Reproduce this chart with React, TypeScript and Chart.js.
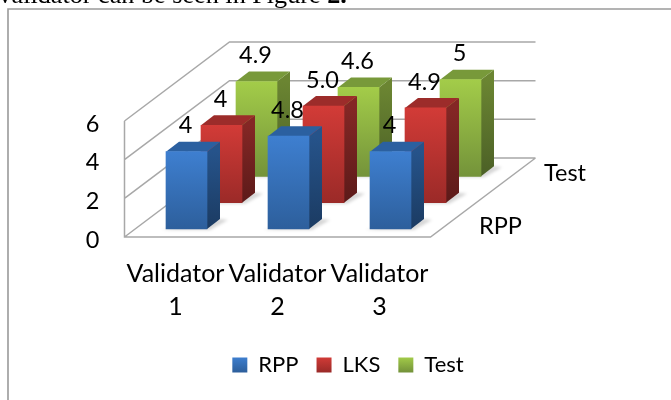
import React, { useEffect, useRef } from "react";
import { Chart, registerables } from "chart.js";

Chart.register(...registerables);

const categories = [["Validator", "1"], ["Validator", "2"], ["Validator", "3"]];
const seriesNames = ["RPP", "LKS", "Test"];
const rpp = [4, 4.8, 4];
const lks = [4, 5, 4.9];
const testValues = [4.9, 4.6, 5];
const rppText = ["4", "4.8", "4"];
const lksText = ["4", "5.0", "4.9"];
const testText = ["4.9", "4.6", "5"];
const depthAxisLabels = ["RPP", "", "Test"];
const captionText = "validator can be seen in Figure ";
const captionBold = "2.";

const FONT = "Lato";
const FONT_SIZE = 23.5;
const WALL = { dx: 105, dy: -79 };
const BAND = { dx: 35, dy: -26.33 };
const FIRST = { dx: 11, dy: -8 };
const SIDE = { dx: 13, dy: -10 };

const palettes = [
  { front: ["#3e7fd0", "#2d5f9c"], side: ["#26538a", "#1b3b62"], top: "#2b60a0" },
  { front: ["#d23b37", "#9b2a28"], side: ["#842725", "#5c1a19"], top: "#9c2c2a" },
  { front: ["#a3cc49", "#74933a"], side: ["#6b8532", "#4b6026"], top: "#78993a" },
];
const texts = [rppText, lksText, testText];

function offset(i: number) {
  return { x: FIRST.dx + BAND.dx * i, y: FIRST.dy + BAND.dy * i };
}

const scene = {
  id: "scene",
  beforeDraw(chart: any) {
    const { ctx } = chart;
    ctx.save();
    ctx.fillStyle = "#fff";
    ctx.fillRect(0, 0, 671, 400);
    ctx.strokeStyle = "#9a9a9a";
    ctx.lineWidth = 1.6;
    ctx.beginPath();
    ctx.moveTo(8, 402);
    ctx.lineTo(8, 9);
    ctx.lineTo(673, 9);
    ctx.stroke();
    ctx.fillStyle = "#000";
    ctx.textBaseline = "alphabetic";
    ctx.textAlign = "left";
    ctx.font = "26.2px 'Liberation Serif'";
    ctx.fillText(captionText, -1.5, 3);
    const w = ctx.measureText(captionText).width;
    ctx.font = "bold 26.2px 'Liberation Serif'";
    ctx.fillText(captionBold, -1.5 + w, 3);
    ctx.restore();
  },
  beforeDatasetsDraw(chart: any) {
    const { ctx, chartArea, scales } = chart;
    const y = scales.y;
    const left = chartArea.left;
    const right = chartArea.right;
    ctx.save();
    ctx.strokeStyle = "#a8a8a8";
    ctx.lineWidth = 1.5;
    ctx.beginPath();
    for (const tick of y.ticks) {
      const py = y.getPixelForValue(tick.value);
      ctx.moveTo(left, py);
      ctx.lineTo(left + WALL.dx, py + WALL.dy);
      ctx.lineTo(right + WALL.dx, py + WALL.dy);
    }
    const base = y.getPixelForValue(0);
    ctx.moveTo(left, y.getPixelForValue(y.max));
    ctx.lineTo(left, base);
    ctx.lineTo(right, base);
    ctx.lineTo(right + WALL.dx, base + WALL.dy);
    ctx.stroke();
    ctx.restore();
  },
  beforeDatasetDraw(chart: any, args: any) {
    const { ctx, scales } = chart;
    const o = offset(args.index);
    const pal = palettes[args.index];
    const base = scales.y.getPixelForValue(0);
    ctx.save();
    ctx.translate(o.x, o.y);
    for (const el of args.meta.data) {
      const half = el.width / 2;
      const l = el.x - half;
      const r = el.x + half;
      ctx.save();
      ctx.filter = "blur(1.5px)";
      ctx.fillStyle = "rgba(0,0,0,0.16)";
      ctx.beginPath();
      ctx.moveTo(l - 4, base + 1);
      ctx.lineTo(r + 3, base + 1);
      ctx.lineTo(r + SIDE.dx + 8, base + SIDE.dy + 1);
      ctx.lineTo(r + SIDE.dx, base + SIDE.dy);
      ctx.closePath();
      ctx.fill();
      ctx.restore();
      const sg = ctx.createLinearGradient(0, el.y, 0, base);
      sg.addColorStop(0, pal.side[0]);
      sg.addColorStop(1, pal.side[1]);
      ctx.fillStyle = sg;
      ctx.beginPath();
      ctx.moveTo(r, el.y);
      ctx.lineTo(r + SIDE.dx, el.y + SIDE.dy);
      ctx.lineTo(r + SIDE.dx, base + SIDE.dy);
      ctx.lineTo(r, base);
      ctx.closePath();
      ctx.fill();
      ctx.fillStyle = pal.top;
      ctx.beginPath();
      ctx.moveTo(l, el.y);
      ctx.lineTo(l + SIDE.dx, el.y + SIDE.dy);
      ctx.lineTo(r + SIDE.dx, el.y + SIDE.dy);
      ctx.lineTo(r, el.y);
      ctx.closePath();
      ctx.fill();
    }
  },
  afterDatasetDraw(chart: any) {
    chart.ctx.restore();
  },
  afterDatasetsDraw(chart: any) {
    const { ctx, chartArea, scales } = chart;
    const base = scales.y.getPixelForValue(0);
    ctx.save();
    ctx.fillStyle = "#000";
    ctx.font = `${FONT_SIZE}px ${FONT}`;
    ctx.textAlign = "center";
    ctx.textBaseline = "middle";
    chart.getSortedVisibleDatasetMetas().forEach((meta: any) => {
      const o = offset(meta.index);
      meta.data.forEach((el: any, j: number) => {
        ctx.fillText(texts[meta.index][j], el.x + o.x - 1, el.y + o.y - 26);
      });
    });
    ctx.textAlign = "left";
    depthAxisLabels.forEach((label, i) => {
      ctx.fillText(label, chartArea.right + 48.5 + i * 32.5, base - 11 + BAND.dy * i);
    });
    ctx.restore();
  },
  afterLayout(chart: any) {
    const lg = chart.legend;
    lg.left = 0;
    lg.right = 696;
    lg.top = 336;
  },
};

export default function App() {
  const ref = useRef<HTMLCanvasElement | null>(null);
  useEffect(() => {
    const canvas = ref.current!;
    const g = canvas.getContext("2d")!;
    const frontFill = (i: number) => (c: any) => {
      const pal = palettes[i];
      if (c.type !== "data") return pal.front[0];
      const sc = c.chart.scales.y;
      const grad = g.createLinearGradient(0, sc.getPixelForValue(c.raw), 0, sc.getPixelForValue(0));
      grad.addColorStop(0, pal.front[0]);
      grad.addColorStop(1, pal.front[1]);
      return grad;
    };
    const mk = (i: number, data: number[]) => ({
      label: seriesNames[i],
      data,
      backgroundColor: frontFill(i),
      borderWidth: 0,
      barThickness: 41,
      clip: false,
    });
    const chart = new Chart(canvas, {
      type: "bar",
      data: {
        labels: categories as any,
        datasets: [mk(0, rpp), mk(1, lks), mk(2, testValues)],
      },
      plugins: [scene as any],
      options: {
        animation: false,
        responsive: false,
        layout: { padding: { left: 0, top: 121, right: 240.5, bottom: 0 } },
        datasets: { bar: { grouped: false } as any },
        plugins: {
          tooltip: { enabled: false },
          legend: {
            position: "bottom",
            labels: {
              font: { family: FONT, size: 22 },
              color: "#000",
              boxWidth: 15,
              boxHeight: 15,
              padding: 18,
              generateLabels: () =>
                seriesNames.map((name, i) => {
                  const grad = g.createLinearGradient(0, 357, 0, 372);
                  grad.addColorStop(0, palettes[i].front[0]);
                  grad.addColorStop(1, palettes[i].front[1]);
                  return { text: name, fillStyle: grad, strokeStyle: "transparent", lineWidth: 0, datasetIndex: i } as any;
                }),
            },
          },
        },
        scales: {
          x: {
            grid: { display: false },
            border: { display: false },
            ticks: { font: { family: FONT, size: 25, lineHeight: 1.3 }, color: "#000", maxRotation: 0, minRotation: 0, autoSkip: false, padding: 13 } as any,
            afterFit: (s: any) => { s.height = 113; },
          },
          y: {
            min: 0,
            max: 6,
            grid: { display: false, drawTicks: false },
            border: { display: false },
            ticks: { stepSize: 2, font: { family: FONT, size: FONT_SIZE }, color: "#000", padding: 25, labelOffset: 3 } as any,
            afterFit: (s: any) => { s.width = 124.5; },
          },
        },
      },
    });
    return () => chart.destroy();
  }, []);
  return (
    <div style={{ position: "absolute", left: 0, top: 0, width: 671, height: 400 }}>
      <canvas ref={ref} width={671} height={400} style={{ display: "block" }} />
    </div>
  );
}
